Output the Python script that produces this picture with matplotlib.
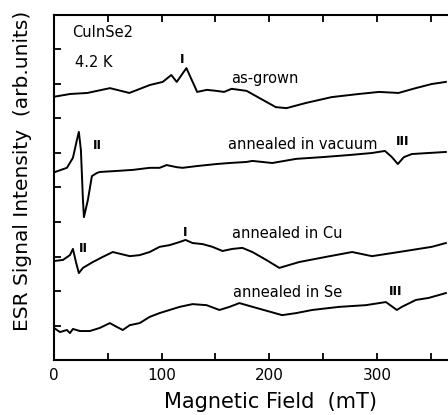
import matplotlib
matplotlib.use("Agg")
import matplotlib.pyplot as plt

# Magnetic field (mT) and ESR signal (arb. units, offset traces)
asgrown_x = [0, 15, 31, 52, 70, 89, 101, 109, 114, 123, 133, 142, 151, 158, 165, 179,
             191, 206, 216, 234, 258, 283, 302, 320, 336, 351, 364]
asgrown_y = [7.63, 7.71, 7.74, 7.88, 7.74, 7.97, 8.06, 8.26, 8.06, 8.46, 7.77, 7.83, 7.80,
             7.77, 7.86, 7.80, 7.59, 7.33, 7.30, 7.45, 7.62, 7.71, 7.77, 7.74, 7.88, 8.00, 8.06]

vacuum_x = [1, 12, 17.6, 21.3, 23.1, 25, 26.9, 27.8, 31.5, 35.2, 39.8, 42.6, 58.3, 73.1,
            88.9, 98.1, 104.6, 113.9, 119.4, 132.4, 150.9, 163, 178.7, 184.3, 202.8, 225,
            249, 274, 295.4, 307.4, 313.9, 319.4, 325, 332.4, 348, 364]
vacuum_y = [5.45, 5.57, 5.86, 6.38, 6.61, 6.09, 4.64, 4.14, 4.64, 5.33, 5.42, 5.45, 5.48,
            5.51, 5.57, 5.57, 5.65, 5.59, 5.57, 5.62, 5.68, 5.71, 5.74, 5.77, 5.71, 5.83,
            5.88, 5.94, 6.00, 6.06, 5.88, 5.68, 5.88, 5.97, 6.00, 6.03]

cu_x = [0, 8.3, 14.8, 17.6, 20.4, 23.1, 26.9, 36.1, 45.4, 54.6, 70.4, 79.6, 88.9, 98.1,
        107.4, 116.7, 122.2, 128.7, 138, 147.2, 156.5, 165.7, 175, 184.3, 197.2, 209.3,
        227.8, 252.8, 276.9, 295.4, 320.4, 350.9, 364]
cu_y = [2.87, 2.90, 3.04, 3.22, 2.84, 2.52, 2.67, 2.84, 2.99, 3.13, 3.01, 3.04, 3.13, 3.28,
        3.33, 3.42, 3.48, 3.39, 3.36, 3.28, 3.16, 3.22, 3.25, 3.13, 2.90, 2.67, 2.84, 2.99,
        3.13, 3.01, 3.13, 3.28, 3.39]

se_x = [0, 5.6, 12, 14.8, 17.6, 24.1, 33.3, 42.6, 51.9, 58.3, 63.9, 70.4, 79.6, 88.9,
        98.1, 107.4, 116.7, 128.7, 141.7, 153.7, 163, 172.2, 188, 212, 225, 239.8, 264.8,
        289.8, 308.3, 318.5, 323.1, 336.1, 348.1, 364]
se_y = [0.93, 0.81, 0.87, 0.78, 0.90, 0.84, 0.84, 0.93, 1.07, 0.96, 0.87, 1.01, 1.07, 1.25,
        1.36, 1.45, 1.54, 1.62, 1.59, 1.45, 1.54, 1.65, 1.51, 1.30, 1.36, 1.45, 1.54, 1.59,
        1.68, 1.45, 1.54, 1.74, 1.80, 1.94]

xticks_major = [0, 100, 200, 300]
xtick_labels = ["0", "100", "200", "300"]

fig = plt.figure(figsize=(4.48, 4.15), dpi=100)
ax = fig.add_axes([0.1205, 0.1325, 0.8795, 0.8314])

lw = 1.4
for xs, ys in [(asgrown_x, asgrown_y), (vacuum_x, vacuum_y), (cu_x, cu_y), (se_x, se_y)]:
    ax.plot(xs, ys, color="black", lw=lw, solid_joinstyle="round")

ax.set_xlim(0, 366)
ax.set_ylim(0, 10)

ax.spines["right"].set_visible(False)
for s in ["left", "bottom", "top"]:
    ax.spines[s].set_linewidth(1.5)

ax.set_xticks(xticks_major)
ax.set_xticklabels(xtick_labels)
ax.set_xticks([50, 150, 250, 350], minor=True)
ax.set_yticks(range(1, 10))
ax.set_yticklabels([])
ax.tick_params(axis="both", which="both", direction="in", length=5, width=1.3,
               top=True, right=False, labelsize=11)
ax.tick_params(axis="x", pad=6)

fig.text(0.603, 0.032, "Magnetic Field  (mT)", fontsize=15, ha="center", va="center")
fig.text(0.050, 0.588, "ESR Signal Intensity  (arb.units)", rotation=90,
         fontsize=14.5, ha="center", va="center")

tk = dict(fontsize=10.5, va="center", ha="left")
ax.text(16.7, 9.48, "CuInSe2", **tk)
ax.text(19.4, 8.61, "4.2 K", **tk)
ax.text(165, 8.17, "as-grown", **tk)
ax.text(162, 6.26, "annealed in vacuum", **tk)
ax.text(165, 3.68, "annealed in Cu", **tk)
ax.text(166, 1.97, "annealed in Se", **tk)

mk = dict(fontsize=9, va="center", ha="center", fontweight="bold")
ax.text(119.4, 8.70, "I", **mk)
ax.text(40, 6.23, "II", **mk)
ax.text(324, 6.32, "III", **mk)
ax.text(27, 3.22, "II", **mk)
ax.text(122, 3.71, "I", **mk)
ax.text(317.6, 2.0, "III", **mk)

fig.savefig("out.png", dpi=100)
